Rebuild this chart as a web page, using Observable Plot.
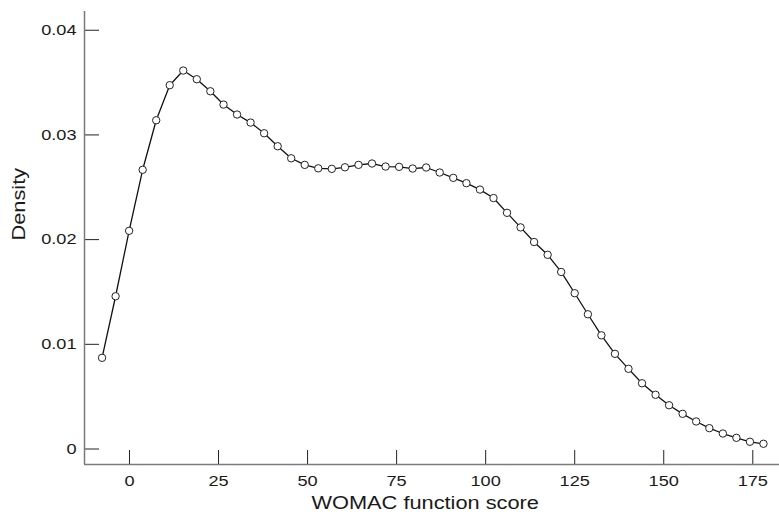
<!DOCTYPE html>
<html><head><meta charset="utf-8">
<script src="https://cdn.jsdelivr.net/npm/d3@7"></script>
<script src="https://cdn.jsdelivr.net/npm/@observablehq/plot@0.6"></script>
<style>html,body{margin:0;padding:0;background:#fff} #chart svg{display:block}</style>
</head><body><div id="chart"></div>
<script>
const scores = [-7.7, -3.9, -0.1, 3.7, 7.5, 11.3, 15.1, 18.9, 22.7, 26.4,
  30.2, 34.0, 37.8, 41.6, 45.4, 49.2, 53.0, 56.8, 60.5, 64.3,
  68.1, 71.9, 75.7, 79.5, 83.3, 87.1, 90.9, 94.6, 98.4, 102.2,
  106.0, 109.8, 113.6, 117.4, 121.2, 125.0, 128.7, 132.5, 136.3, 140.1,
  143.9, 147.7, 151.5, 155.3, 159.1, 162.8, 166.6, 170.4, 174.2, 178.0];
const densities = [0.00871, 0.01459, 0.02084, 0.02667, 0.03140, 0.03475, 0.03615, 0.03532, 0.03417, 0.03290,
  0.03195, 0.03118, 0.03016, 0.02892, 0.02777, 0.02714, 0.02681, 0.02676, 0.02691, 0.02714,
  0.02727, 0.02698, 0.02695, 0.02679, 0.02689, 0.02641, 0.02590, 0.02539, 0.02478, 0.02397,
  0.02256, 0.02117, 0.01977, 0.01855, 0.01691, 0.01488, 0.01287, 0.01086, 0.00909, 0.00766,
  0.00628, 0.00518, 0.00418, 0.00336, 0.00263, 0.00199, 0.00148, 0.00107, 0.00069, 0.00050];
const xTicks = [0, 25, 50, 75, 100, 125, 150, 175];
const yTicks = [0, 0.01, 0.02, 0.03, 0.04];
const xLabel = "WOMAC function score";
const yLabel = "Density";

const W = 779, H = 517, ml = 84, mr = 0, mt = 11, mb = 53;
const xDomain = [-12.63, 182.5], yDomain = [-0.00148, 0.04179];
const innerW = W - ml - mr, innerH = H - mt - mb;
const data = scores.map((x, i) => ({x, y: densities[i]}));
const font = "'Liberation Sans', Arial, Helvetica, sans-serif";

const chart = Plot.plot({
  width: W, height: H,
  marginLeft: ml, marginRight: mr, marginTop: mt, marginBottom: mb,
  style: {fontFamily: font, background: "#fff", color: "#1a1a1a"},
  x: {domain: xDomain},
  y: {domain: yDomain},
  marks: [
    Plot.axisX(xTicks, {tickSize: 0, tickPadding: 11, fontSize: 15, label: null}),
    Plot.axisY(yTicks, {tickSize: 0, tickPadding: 8, fontSize: 15, label: null,
      tickFormat: d => d === 0 ? "0" : d3.format(".2f")(d)}),
    Plot.tickX(xTicks, {x: d => d, insetTop: innerH - 14, stroke: "#222"}),
    Plot.tickY(yTicks, {y: d => d, insetRight: innerW - 15, stroke: "#222"}),
    Plot.ruleX([xDomain[0]], {stroke: "#7a7a7a", strokeWidth: 1.5}),
    Plot.ruleY([yDomain[0]], {stroke: "#7a7a7a", strokeWidth: 1.5}),
    Plot.line(data, {x: "x", y: "y", stroke: "#111", strokeWidth: 1.3}),
    Plot.dot(data, {x: "x", y: "y", r: 3.7, fill: "#fff", stroke: "#222", strokeWidth: 1}),
    Plot.text([xLabel], {text: d => d, frameAnchor: "bottom", dy: 44.2, dx: -6.8, fontSize: 18}),
    Plot.text([yLabel], {text: d => d, frameAnchor: "left", dx: -64.8, dy: 2.5, rotate: -90, fontSize: 18})
  ]
});
document.getElementById("chart").appendChild(chart);
// The reference typeface is set wider than Arial/Liberation Sans: widen glyphs ~21%.
chart.querySelectorAll("text").forEach(t => {
  const len = t.getComputedTextLength();
  if (len > 0) {
    t.setAttribute("textLength", (len * 1.21).toFixed(2));
    t.setAttribute("lengthAdjust", "spacingAndGlyphs");
  }
});
</script>
</body></html>
